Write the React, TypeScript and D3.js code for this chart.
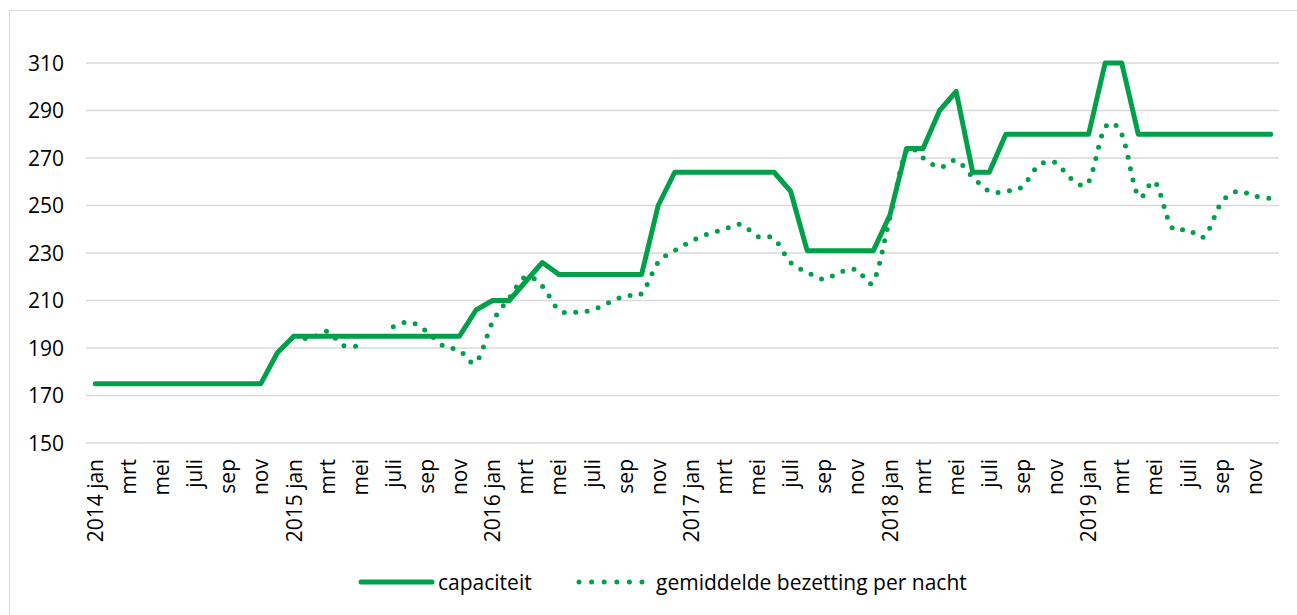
import React from "react";
import * as d3 from "d3";

const years = ["2014", "2015", "2016", "2017", "2018", "2019"];
const monthNames = ["jan", "feb", "mrt", "apr", "mei", "jun", "juli", "aug", "sep", "okt", "nov", "dec"];

const capaciteit: number[] = [
  175, 175, 175, 175, 175, 175, 175, 175, 175, 175, 175, 188,
  195, 195, 195, 195, 195, 195, 195, 195, 195, 195, 195, 206,
  210, 210, 218, 226, 221, 221, 221, 221, 221, 221, 250, 264,
  264, 264, 264, 264, 264, 264, 256, 231, 231, 231, 231, 231,
  246, 274, 274, 290, 298, 264, 264, 280, 280, 280, 280, 280,
  280, 310, 310, 280, 280, 280, 280, 280, 280, 280, 280, 280,
];

const bezetting: (number | null)[] = [
  null, null, null, null, null, null, null, null, null, null, null, null,
  195, 194, 197, 191, 191, null, 199, 201, 197, 191, 189, 184,
  201, 211, 220, 216, 206, 205, 206, 209, 212, 213, 226, 231,
  235, 238, 240, 242, 237, 236, 226, 222, 219, 222, 223, 218,
  245, 273, 270, 266, 269, 262, 256, 256, 258, 267, 268, 261,
  260, 283, 280, 254, 260, 241, 240, 237, 251, 256, 254, 253,
];

const yTicks = [150, 170, 190, 210, 230, 250, 270, 290, 310];
const seriesNames = ["capaciteit", "gemiddelde bezetting per nacht"];

const categories: string[] = years.flatMap((y) =>
  monthNames.map((m, i) => (i === 0 ? `${y} ${m}` : m))
);

const GREEN = "#00A04B";
const GRID = "#D9D9D9";
const FONT = "'Open Sans', sans-serif";

export default function App() {
  const W = 1297;
  const H = 615;
  const idx = categories.map((_, i) => String(i));
  const x = d3.scaleBand<string>().domain(idx).range([87, 1279]).padding(0);
  const cx = (i: number) => (x(String(i)) as number) + x.bandwidth() / 2;
  const y = d3.scaleLinear().domain([150, 310]).range([443, 63]);

  const capLine = d3
    .line<number>()
    .x((_, i) => cx(i))
    .y((d) => y(d));

  const bezLine = d3
    .line<number | null>()
    .defined((d) => d !== null)
    .x((_, i) => cx(i))
    .y((d) => y(d as number))
    .curve(d3.curveCardinal.tension(0));

  return (
    <svg
      width={W}
      height={H}
      style={{ position: "absolute", left: 0, top: 0, background: "#fff" }}
      fontFamily={FONT}
    >
      <rect x={9.5} y={10.5} width={1400} height={700} fill="#fff" stroke={GRID} strokeWidth={1} />
      {yTicks.map((t) => (
        <g key={t}>
          <line x1={86} x2={1279} y1={y(t)} y2={y(t)} stroke={GRID} strokeWidth={1.3} />
          <text x={64} y={y(t)} dy="0.36em" textAnchor="end" fontSize={21} fill="#000">
            {t}
          </text>
        </g>
      ))}
      {categories.map((c, i) =>
        i % 2 === 0 ? (
          <text
            key={"c" + i}
            transform={`translate(${cx(i)},459) rotate(-90)`}
            textAnchor="end"
            dy="0.36em"
            fontSize={21}
            fill="#000"
          >
            {c}
          </text>
        ) : null
      )}
      <path
        d={capLine(capaciteit) || ""}
        fill="none"
        stroke={GREEN}
        strokeWidth={5}
        strokeLinejoin="round"
        strokeLinecap="round"
      />
      <path
        d={bezLine(bezetting) || ""}
        fill="none"
        stroke={GREEN}
        strokeWidth={5}
        strokeLinecap="round"
        strokeDasharray="0 11.5"
      />
      <g>
        <line x1={361} x2={432} y1={582} y2={582} stroke={GREEN} strokeWidth={5} strokeLinecap="round" />
        <text x={438} y={582} dy="0.36em" fontSize={21} fill="#000">
          {seriesNames[0]}
        </text>
        <line
          x1={579}
          x2={643}
          y1={582}
          y2={582}
          stroke={GREEN}
          strokeWidth={5}
          strokeLinecap="round"
          strokeDasharray="0 12.6"
        />
        <text x={656} y={582} dy="0.36em" fontSize={21} fill="#000">
          {seriesNames[1]}
        </text>
      </g>
    </svg>
  );
}
